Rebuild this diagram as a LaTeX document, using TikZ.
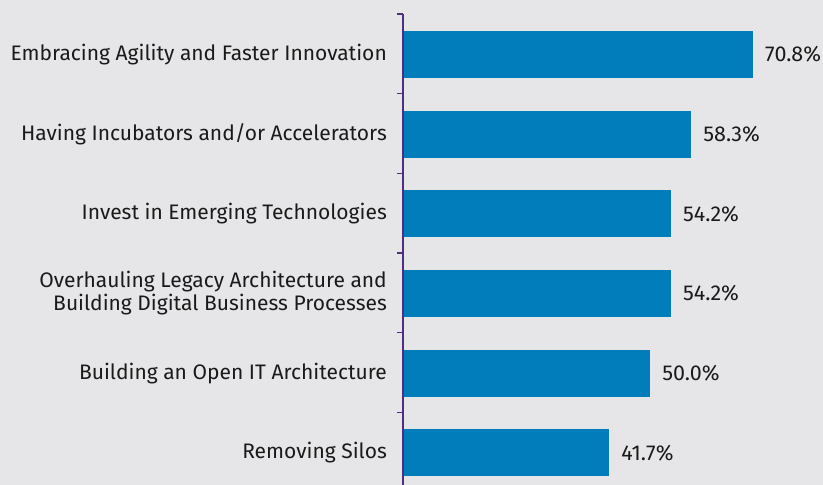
\documentclass[tikz,border=0pt]{standalone}
\usepackage{fontspec}
\setmainfont{Fira Sans}
\definecolor{bg}{HTML}{E6E6E8}
\definecolor{barblue}{HTML}{007DBA}
\definecolor{axispurple}{HTML}{4F2D7F}
\definecolor{txt}{HTML}{1A1A1A}
\begin{document}
\begin{tikzpicture}[x=1pt,y=-1pt,
  bar/.style={fill=barblue, draw=none, anchor=west, minimum height=47pt, inner sep=0pt, outer sep=0pt},
  cat/.style={anchor=east, align=right, text=txt, inner sep=0pt, font=\fontsize{21}{23}\selectfont},
  val/.style={anchor=west, text=txt, inner sep=0pt, font=\fontsize{21.5}{23}\selectfont},
  axisline/.style={draw=axispurple, line width=1.3pt}]
\fill[bg] (0,0) rectangle (823,485);
\useasboundingbox (0,0) rectangle (823,485);
% bars
\node[bar, minimum width=350pt] (b1) at (403,54.3) {};
\node[bar, minimum width=288.2pt] (b2) at (403,134) {};
\node[bar, minimum width=268pt] (b3) at (403,213.7) {};
\node[bar, minimum width=268pt] (b4) at (403,293.4) {};
\node[bar, minimum width=247.2pt] (b5) at (403,373.1) {};
\node[bar, minimum width=206.2pt] (b6) at (403,452.8) {};
% values
\foreach \n/\v in {1/70.8\%,2/58.3\%,3/54.2\%,4/54.2\%,5/50.0\%,6/41.7\%}
  \node[val] (v\n) at ([xshift=12pt]b\n.east) {\v};
% categories
\node[cat] (c1) at (387,54.3) {Embracing Agility and Faster Innovation};
\node[cat] (c2) at (387,134) {Having Incubators and/or Accelerators};
\node[cat] (c3) at (387,213.7) {Invest in Emerging Technologies};
\node[cat] (c4) at (387,293.4) {Overhauling Legacy Architecture and\\Building Digital Business Processes};
\node[cat] (c5) at (387,373.1) {Building an Open IT Architecture};
\node[cat] (c6) at (387,452.8) {Removing Silos};
% axis
\coordinate (atop) at (403,14);
\coordinate (abot) at (403,485);
\draw[axisline] (atop) -- (abot);
\foreach \i in {0,...,5}
  \draw[axisline] (397,14+79.7*\i) -- (403,14+79.7*\i);
\end{tikzpicture}
\end{document}
